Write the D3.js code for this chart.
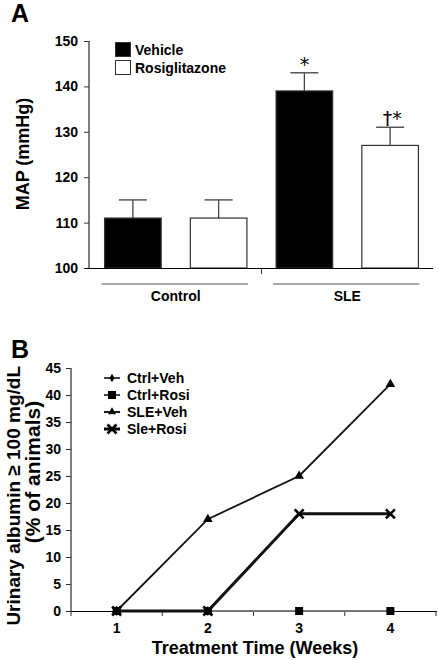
<!DOCTYPE html>
<html><head><meta charset="utf-8">
<script src="https://cdn.jsdelivr.net/npm/d3@7"></script>
<style>body{margin:0;background:#fff}svg{display:block;font-family:Arial,"Liberation Sans",sans-serif;font-weight:bold}</style>
</head><body>
<svg id="c" width="438" height="660"></svg>
<script>
// Panel A data
const groupsA = ["Control", "SLE"];
const seriesA = ["Vehicle", "Rosiglitazone"];
const meanVehicle = [111, 139];
const errVehicle = [4, 4];
const meanRosi = [111, 127];
const errRosi = [4, 4];
const sigVehicle = ["", "*"];
const sigRosi = ["", "†*"];
const ticksA = [100, 110, 120, 130, 140, 150];

// Panel B data
const weeks = ["1", "2", "3", "4"];
const ctrlVeh = [0, 0, 0, 0];
const ctrlRosi = [0, 0, 0, 0];
const sleVeh = [0, 17, 25, 42];
const sleRosi = [0, 0, 18, 18];
const seriesB = ["Ctrl+Veh", "Ctrl+Rosi", "SLE+Veh", "Sle+Rosi"];
const ticksB = [0, 5, 10, 15, 20, 25, 30, 35, 40, 45];

const svg = d3.select("#c");

// ---------- Panel A ----------
const yA = d3.scaleLinear().domain([100, 150]).range([268, 41]);
const x0 = d3.scaleBand().domain(groupsA).range([90, 433]).padding(0);
const x1 = d3.scaleBand().domain(seriesA).range([0, x0.bandwidth()]).paddingInner(0.34).paddingOuter(0.17);

svg.append("text").attr("x", 11).attr("y", 22).attr("font-size", 25).text("A");

const gA = svg.append("g");
const yAxA = d3.axisLeft(yA).tickValues(ticksA).tickSize(5).tickPadding(6);
const ga = gA.append("g").attr("transform", "translate(89,0)").call(yAxA);
ga.select(".domain").attr("stroke", "#000").attr("d", "M0,41V268");
ga.selectAll("text").attr("font-size", 14).attr("font-weight", "bold").attr("font-family", "Arial").attr("fill", "#000");
ga.selectAll("line").attr("stroke", "#333");

svg.append("text").attr("transform", "translate(29,154) rotate(-90)").attr("text-anchor", "middle")
  .attr("font-size", 18).text("MAP (mmHg)");

const dataA = [];
groupsA.forEach((g, i) => {
  dataA.push({g, s: "Vehicle", v: meanVehicle[i], e: errVehicle[i], fill: "#000", sig: sigVehicle[i]});
  dataA.push({g, s: "Rosiglitazone", v: meanRosi[i], e: errRosi[i], fill: "#fff", sig: sigRosi[i]});
});
dataA.forEach(d => {
  const cx = x0(d.g) + x1(d.s) + x1.bandwidth() / 2;
  gA.append("line").attr("x1", cx).attr("x2", cx).attr("y1", yA(d.v)).attr("y2", yA(d.v + d.e)).attr("stroke", "#444").attr("stroke-width", 1.3);
  gA.append("line").attr("x1", cx - 14).attr("x2", cx + 14).attr("y1", yA(d.v + d.e)).attr("y2", yA(d.v + d.e)).attr("stroke", "#555").attr("stroke-width", 1.5);
  if (d.sig) {
    gA.append("text").attr("x", cx + (d.sig.length > 1 ? 2 : 0)).attr("y", yA(d.v + d.e) - 2)
      .attr("text-anchor", "middle").attr("font-size", 19).attr("font-weight", "normal")
      .attr("font-family", "'DejaVu Sans', sans-serif").attr("fill", "#000").text(d.sig);
  }
});
gA.selectAll("rect.bar").data(dataA).join("rect")
  .attr("x", d => x0(d.g) + x1(d.s))
  .attr("y", d => yA(d.v))
  .attr("width", x1.bandwidth())
  .attr("height", d => yA(100) - yA(d.v))
  .attr("fill", d => d.fill).attr("stroke", "#333").attr("stroke-width", 1.2);

// x axis
gA.append("line").attr("x1", 85).attr("x2", 433).attr("y1", 268.5).attr("y2", 268.5).attr("stroke", "#000").attr("stroke-width", 1.2);
gA.append("line").attr("x1", x0("SLE")).attr("x2", x0("SLE")).attr("y1", 268).attr("y2", 274).attr("stroke", "#333");
groupsA.forEach(g => {
  gA.append("line").attr("x1", x0(g) + x1("Vehicle") - 3).attr("x2", x0(g) + x1("Rosiglitazone") + x1.bandwidth() + 1)
    .attr("y1", 284).attr("y2", 284).attr("stroke", "#555").attr("stroke-width", 1.2);
  gA.append("text").attr("x", x0(g) + x0.bandwidth() / 2).attr("y", 301).attr("text-anchor", "middle").attr("font-size", 14).text(g);
});

// legend A
seriesA.forEach((s, i) => {
  gA.append("rect").attr("x", 115.5).attr("y", 42.5 + i * 18).attr("width", 15).attr("height", 14)
    .attr("fill", i === 0 ? "#000" : "#fff").attr("stroke", "#333");
  gA.append("text").attr("x", 135).attr("y", 55 + i * 18).attr("font-size", 14).text(s);
});

// ---------- Panel B ----------
svg.append("text").attr("x", 11).attr("y", 358).attr("font-size", 25).text("B");

const yB = d3.scaleLinear().domain([0, 45]).range([611, 368]);
const xB = d3.scaleBand().domain(weeks).range([71, 436]);
const cxB = w => xB(w) + xB.bandwidth() / 2;

const gB = svg.append("g");
const yAxB = d3.axisLeft(yB).tickValues(ticksB).tickSize(5).tickPadding(5);
const gb = gB.append("g").attr("transform", "translate(71,0)").call(yAxB);
gb.select(".domain").attr("d", "M0,368V611").attr("stroke", "#000");
gb.selectAll("text").attr("font-size", 14).attr("font-weight", "bold").attr("font-family", "Arial").attr("fill", "#000");
gb.selectAll("line").attr("stroke", "#333");

gB.append("line").attr("x1", 71).attr("x2", 437).attr("y1", 611.5).attr("y2", 611.5).attr("stroke", "#000").attr("stroke-width", 1.2);
const bounds = weeks.map(w => xB(w)).concat([xB.range()[1]]);
bounds.forEach(b => gB.append("line").attr("x1", b).attr("x2", b).attr("y1", 611).attr("y2", 616).attr("stroke", "#333"));
weeks.forEach(w => gB.append("text").attr("x", cxB(w)).attr("y", 633).attr("text-anchor", "middle").attr("font-size", 14).text(w));

svg.append("text").attr("x", 255).attr("y", 654).attr("text-anchor", "middle").attr("font-size", 18).text("Treatment Time (Weeks)");
svg.append("text").attr("transform", "translate(20,366) rotate(-90)").attr("text-anchor", "end").attr("font-size", 19).text("Urinary albumin ≥ 100 mg/dL");
svg.append("text").attr("transform", "translate(40,472) rotate(-90)").attr("text-anchor", "middle").attr("font-size", 21).text("(% of animals)");

const line = d3.line().x((d, i) => cxB(weeks[i])).y(d => yB(d));
const seriesData = [
  {name: seriesB[0], vals: ctrlVeh, w: 1.5, color: "#777", marker: "diamond"},
  {name: seriesB[1], vals: ctrlRosi, w: 1.5, color: "#777", marker: "square"},
  {name: seriesB[2], vals: sleVeh, w: 1.8, color: "#111", marker: "triangle"},
  {name: seriesB[3], vals: sleRosi, w: 3, color: "#111", marker: "x"}
];
function marker(g, type, x, y, scale) {
  scale = scale || 1;
  if (type === "diamond") g.append("path").attr("d", d3.symbol(d3.symbolDiamond, 30 * scale)()).attr("transform", `translate(${x},${y})`).attr("fill", "#000");
  if (type === "square") g.append("rect").attr("x", x - 4).attr("y", y - 4).attr("width", 8).attr("height", 8).attr("fill", "#000");
  if (type === "triangle") g.append("path").attr("d", d3.symbol(d3.symbolTriangle, 40 * scale)()).attr("transform", `translate(${x},${y})`).attr("fill", "#000");
  if (type === "x") g.append("path").attr("d", `M${x-4.5},${y-4.5}L${x+4.5},${y+4.5}M${x+4.5},${y-4.5}L${x-4.5},${y+4.5}`).attr("stroke", "#000").attr("stroke-width", 2.6);
}
seriesData.forEach(s => {
  gB.append("path").datum(s.vals).attr("d", line).attr("fill", "none").attr("stroke", s.color).attr("stroke-width", s.w);
});
seriesData.forEach(s => {
  s.vals.forEach((v, i) => {
    if (s.marker === "diamond" && i > 1) return;
    marker(gB, s.marker, cxB(weeks[i]), yB(v));
  });
});

// legend B
seriesData.forEach((s, i) => {
  const y = 378 + i * 17;
  gB.append("line").attr("x1", 104).attr("x2", 120).attr("y1", y).attr("y2", y).attr("stroke", "#000").attr("stroke-width", s.w);
  marker(gB, s.marker, 112, y, 0.7);
  gB.append("text").attr("x", 127).attr("y", y + 5).attr("font-size", 14).text(s.name);
});
</script>
</body></html>
